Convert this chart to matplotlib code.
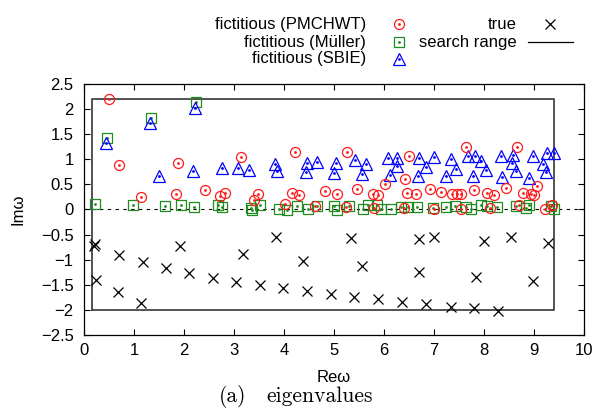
import numpy as np
import matplotlib.pyplot as plt
from matplotlib.ticker import FuncFormatter, MultipleLocator

plt.rcParams["font.family"] = ["Liberation Sans", "DejaVu Sans"]
plt.rcParams["font.size"] = 12

# fictitious eigenvalues, PMCHWT formulation
pmchwt_re = [0.49, 0.69, 1.13, 1.83, 1.87, 2.41, 2.71, 2.82, 3.13, 3.39, 3.47, 4.01,
             4.16, 4.21, 4.29, 4.61, 4.81, 5.05, 5.23, 5.26, 5.45, 5.77, 5.79, 5.87,
             6.01, 6.41, 6.39, 6.46, 6.49, 6.64, 6.91, 6.99, 7.14, 7.36, 7.45, 7.53,
             7.54, 7.63, 7.79, 8.06, 8.19, 8.12, 8.44, 8.66, 8.69, 8.78, 8.93, 9.00,
             9.06, 9.21, 9.36]
pmchwt_im = [2.20, 0.89, 0.24, 0.31, 0.93, 0.39, 0.27, 0.33, 1.04, 0.19, 0.30, 0.11,
             0.32, 1.15, 0.29, 0.06, 0.36, 0.30, 0.04, 1.14, 0.41, 0.30, 0.02, 0.29,
             0.50, 0.61, 0.02, 0.32, 1.07, 0.30, 0.40, 0.01, 0.35, 0.31, 0.31, 0.31,
             0.01, 1.24, 0.39, 0.32, 0.29, 0.02, 0.42, 1.25, 0.08, 0.32, 0.30, 0.29,
             0.47, 0.01, 0.08]

# fictitious eigenvalues, Mueller formulation
muller_re = [0.21, 0.45, 0.98, 1.33, 1.61, 1.93, 2.19, 2.23, 2.68, 2.76, 3.33, 3.35,
             3.51, 3.89, 4.06, 4.26, 4.47, 4.66, 4.99, 5.05, 5.29, 5.58, 5.67, 5.86,
             5.93, 6.13, 6.33, 6.47, 6.66, 6.98, 7.23, 7.41, 7.63, 7.74, 7.93, 8.06,
             8.26, 8.63, 8.83, 8.89, 9.33, 9.39]
muller_im = [0.11, 1.42, 0.08, 1.82, 0.06, 0.08, 0.04, 2.13, 0.08, 0.04, 0.02, -0.01,
             0.08, 0.01, -0.01, 0.06, 0.01, 0.06, 0.06, -0.01, 0.06, 0.01, 0.08, 0.08,
             0.01, 0.01, 0.04, 0.04, 0.04, 0.02, 0.04, 0.06, 0.04, 0.01, 0.08, 0.06,
             0.04, 0.06, 0.02, 0.08, 0.06, 0.01]

# fictitious eigenvalues, SBIE
sbie_re = [0.43, 1.32, 1.49, 2.21, 2.18, 2.75, 3.08, 3.29, 3.81, 3.85, 4.45, 4.43,
           4.66, 5.03, 4.99, 5.41, 5.63, 5.56, 6.07, 6.25, 6.25, 6.11, 6.69, 6.84,
           6.68, 6.99, 7.33, 7.43, 7.23, 7.67, 7.81, 7.93, 8.04, 7.78, 8.34, 8.58,
           8.56, 8.64, 8.35, 8.98, 8.89, 9.26, 9.39, 9.18, 9.23]
sbie_im = [1.32, 1.72, 0.67, 2.02, 0.77, 0.82, 0.83, 0.79, 0.90, 0.77, 0.93, 0.74,
           0.94, 0.93, 0.72, 0.99, 0.90, 0.70, 1.02, 1.03, 0.87, 0.69, 1.02, 0.84,
           0.67, 1.05, 1.01, 0.81, 0.67, 1.07, 1.07, 0.96, 0.79, 0.67, 1.07, 1.09,
           0.92, 0.77, 0.65, 1.07, 0.63, 1.12, 1.12, 0.90, 0.74]

# true eigenvalues
true_re = [0.20, 0.22, 0.23, 0.70, 0.68, 1.17, 1.13, 1.63, 1.91, 2.09, 2.57, 3.03,
           3.18, 3.51, 3.83, 3.98, 4.38, 4.46, 4.94, 5.33, 5.39, 5.56, 5.88, 6.35,
           6.70, 6.70, 6.83, 7.00, 7.33, 7.79, 7.83, 8.00, 8.28, 8.53, 8.98, 9.28]
true_im = [-0.72, -0.68, -1.40, -0.91, -1.64, -1.05, -1.86, -1.17, -0.73, -1.27, -1.36, -1.44,
           -0.89, -1.50, -0.54, -1.57, -1.02, -1.62, -1.68, -0.57, -1.74, -1.13, -1.79, -1.84,
           -0.59, -1.24, -1.89, -0.54, -1.94, -1.97, -1.34, -0.63, -2.02, -0.55, -1.42, -0.66]

# search range rectangle
search_re = [0.16, 9.40]
search_im = [-2.0, 2.2]

RED = "#ff1a1a"
GREEN = "#1e8c1e"
BLUE = "#0000ff"
ms = 7.2
mew = 0.9

fig = plt.figure(figsize=(5.96, 4.09), dpi=100)
ax = fig.add_axes([0.141, 0.181, 0.839, 0.614])

ax.axhline(0, color="black", lw=0.8, ls=(0, (3, 4)), zorder=1)
ax.plot([search_re[0], search_re[1], search_re[1], search_re[0], search_re[0]],
        [search_im[0], search_im[0], search_im[1], search_im[1], search_im[0]],
        color="#444444", lw=1.3, zorder=1)

ax.plot(pmchwt_re, pmchwt_im, "o", ms=ms, mfc="none", mec=RED, mew=mew, zorder=3)
ax.plot(pmchwt_re, pmchwt_im, "o", ms=1.0, color=RED, zorder=3)
ax.plot(muller_re, muller_im, "s", ms=ms * 1.05, mfc="none", mec=GREEN, mew=mew, zorder=2)
ax.plot(muller_re, muller_im, "o", ms=1.0, color=GREEN, zorder=2)
ax.plot(sbie_re, sbie_im, "^", ms=ms * 1.1, mfc="none", mec=BLUE, mew=mew, zorder=2)
ax.plot(sbie_re, sbie_im, "o", ms=1.0, color=BLUE, zorder=2)
ax.plot(true_re, true_im, "x", ms=ms * 0.95, color="black", mew=0.9, zorder=2)

ax.set_xlim(0, 10)
ax.set_ylim(-2.5, 2.5)
ax.xaxis.set_major_locator(MultipleLocator(1))
ax.yaxis.set_major_locator(MultipleLocator(0.5))
fmt = FuncFormatter(lambda v, p: f"{v:g}".replace("-", "\u2212"))
ax.xaxis.set_major_formatter(fmt)
ax.yaxis.set_major_formatter(fmt)
ax.tick_params(direction="in", length=4.5, width=0.8, top=True, right=True)
ax.tick_params(axis="x", pad=6)
ax.tick_params(axis="y", pad=7.5)
for s in ax.spines.values():
    s.set_linewidth(0.9)

ax.set_xlabel("Reω")
ax.set_ylabel("Imω")
ax.xaxis.set_label_coords(0.5, -0.14)
ax.yaxis.set_label_coords(-0.118, 0.5)

# gnuplot-style key above the plot
def px(x, y):
    return x / 596, 1 - y / 409

key = [("fictitious (PMCHWT)", 24.3, "o", RED, ms),
       ("fictitious (Müller)", 42.3, "s", GREEN, ms * 1.05),
       ("fictitious (SBIE)", 58.7, "^", BLUE, ms * 1.1)]
for label, yy, m, c, size in key:
    fig.text(*px(366, yy), label, ha="right", va="center")
    fig.lines.append(plt.Line2D([px(399, yy)[0]], [px(399, yy)[1]], marker=m, ms=size,
                                mfc="none", mec=c, mew=mew, ls="none",
                                transform=fig.transFigure))
    fig.lines.append(plt.Line2D([px(399, yy)[0]], [px(399, yy)[1]], marker="o", ms=1.0,
                                color=c, ls="none", transform=fig.transFigure))

fig.text(*px(517, 24.3), "true", ha="right", va="center")
fig.lines.append(plt.Line2D([px(550, 24.3)[0]], [px(550, 24.3)[1]], marker="x", ms=ms * 0.95,
                            color="black", mew=0.9, ls="none", transform=fig.transFigure))
fig.text(*px(517, 42.3), "search range", ha="right", va="center")
x0, y0 = px(528, 42.3)
x1, _ = px(573, 42.3)
fig.lines.append(plt.Line2D([x0, x1], [y0, y0], color="black", lw=0.9,
                            transform=fig.transFigure))

# sub-figure caption
fig.text(*px(246, 401.5), "(a)", ha="right", va="baseline", family="cmr10", fontsize=15.5)
fig.text(*px(266, 401.5), "eigenvalues", ha="left", va="baseline", family="cmr10", fontsize=15.5)

fig.savefig("out.png", dpi=100)
